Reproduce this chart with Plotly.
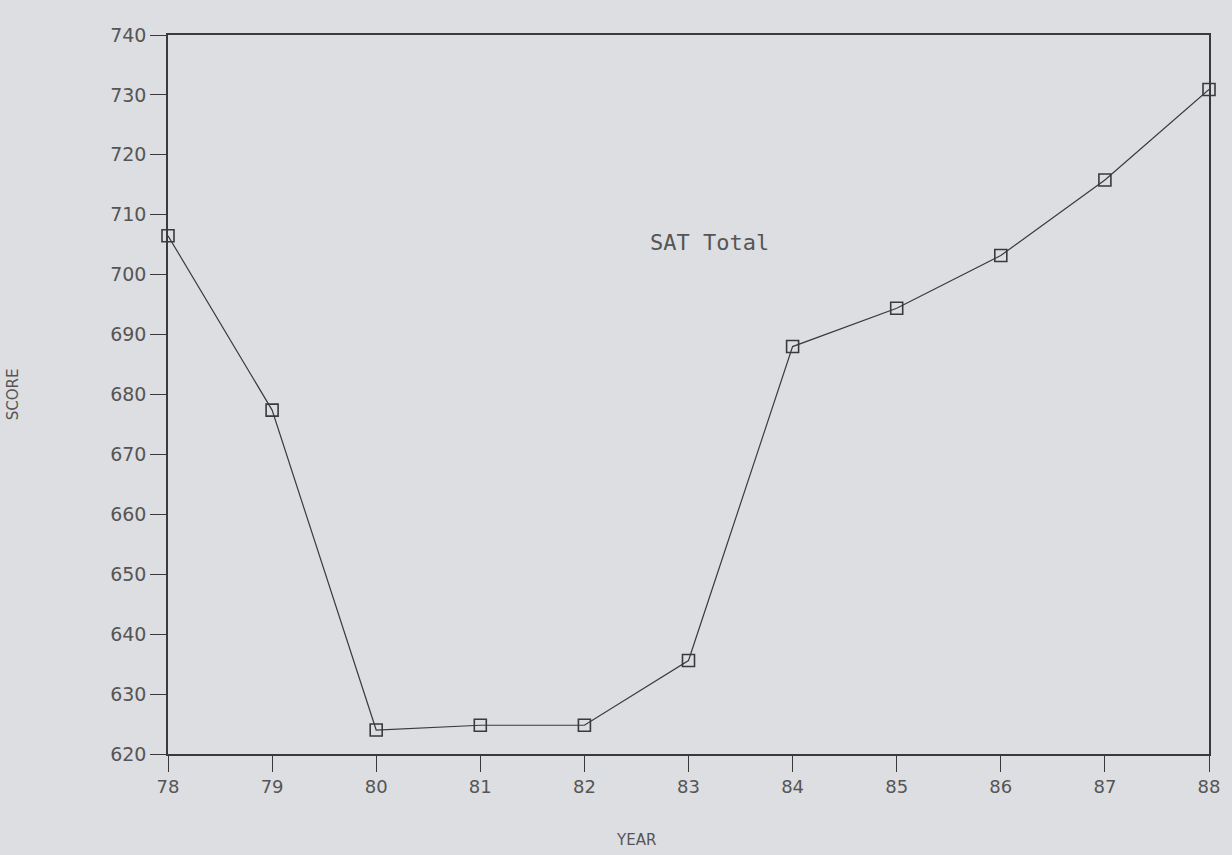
import plotly.graph_objects as go

years = [78, 79, 80, 81, 82, 83, 84, 85, 86, 87, 88]
year_labels = ["78", "79", "80", "81", "82", "83", "84", "85", "86", "87", "88"]
sat_total = [706.5, 677.4, 624.0, 624.8, 624.8, 635.6, 688.0, 694.4, 703.2, 715.8, 730.9]
y_ticks = [620, 630, 640, 650, 660, 670, 680, 690, 700, 710, 720, 730, 740]

bg = "#dddee2"
ink = "#3a3a3a"
txt = "#555555"

fig = go.Figure()
fig.add_trace(go.Scatter(
    x=years, y=sat_total, mode="lines+markers",
    line=dict(color=ink, width=1.2),
    marker=dict(symbol="square-open", size=12, color=ink, line=dict(width=1.6, color=ink)),
    showlegend=False, cliponaxis=False,
))

fig.add_annotation(x=83.2, y=705.3, xref="x", yref="y", text="SAT Total", showarrow=False,
                   font=dict(family="DejaVu Sans Mono", size=22, color=txt))
fig.add_annotation(x=0.45, y=-0.12, xref="paper", yref="paper", yanchor="middle", text="YEAR",
                   showarrow=False, font=dict(family="DejaVu Sans", size=15, color=txt))

fig.update_layout(
    width=1232, height=855,
    margin=dict(l=165, r=15, t=35, b=101),
    paper_bgcolor=bg, plot_bgcolor=bg,
    font=dict(family="DejaVu Sans", color=txt, size=16),
    xaxis=dict(range=[78, 88], tickvals=years, ticktext=year_labels,
               showgrid=False, zeroline=False, showline=True, mirror=True,
               linecolor=ink, linewidth=1.6, ticks="outside", ticklen=16, tickwidth=1.4,
               tickcolor=ink, tickfont=dict(size=18, color=txt)),
    yaxis=dict(range=[620, 740], tickvals=y_ticks,
               showgrid=False, zeroline=False, showline=True, mirror=True,
               linecolor=ink, linewidth=1.6, ticks="outside", ticklen=16, tickwidth=1.4,
               tickcolor=ink, tickfont=dict(size=19, color=txt),
               title=dict(text="SCORE", font=dict(size=15, color=txt), standoff=88)),
)

fig.write_html("out.html", config={"displayModeBar": False},
               post_script="document.body.style.margin='0px';")
